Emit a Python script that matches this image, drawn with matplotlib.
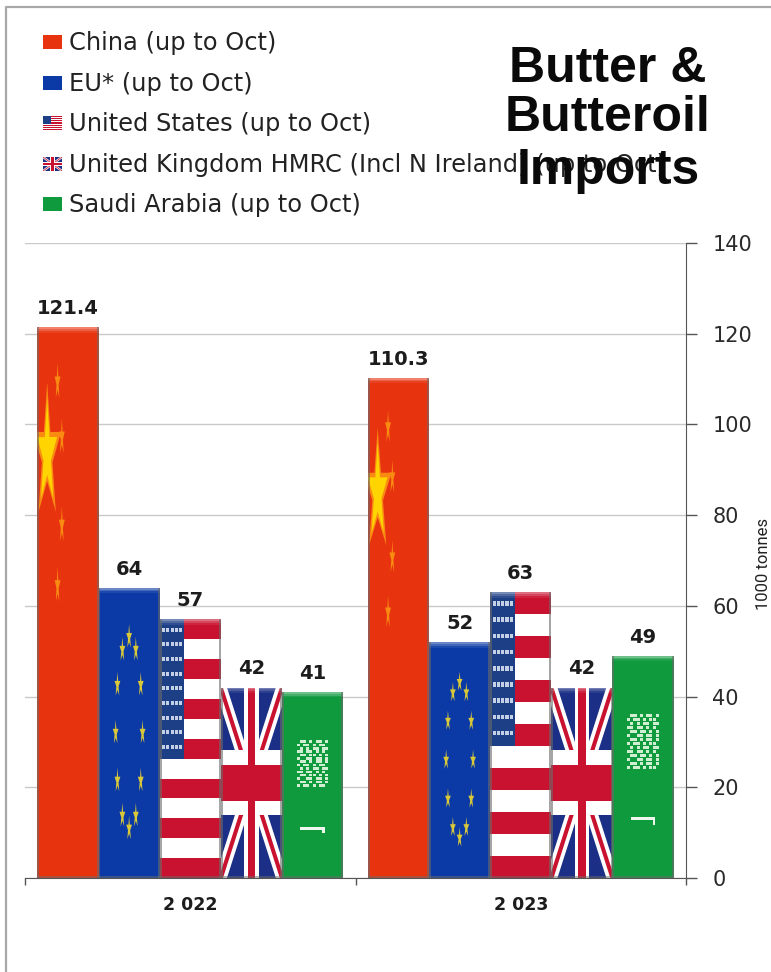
import numpy as np
import matplotlib
matplotlib.use('Agg')
import matplotlib.pyplot as plt
from matplotlib.patches import Rectangle, Polygon

years = ['2 022', '2 023']
legend_labels = ['China (up to Oct)', 'EU* (up to Oct)', 'United States (up to Oct)',
                 'United Kingdom HMRC (Incl N Ireland) (up to Oct)', 'Saudi Arabia (up to Oct)']
china = [121.4, 110.3]
eu = [64, 52]
usa = [57, 63]
uk = [42, 42]
saudi = [41, 49]
value_text = [['121.4', '110.3'], ['64', '52'], ['57', '63'], ['42', '42'], ['41', '49']]
y_ticks = [0, 20, 40, 60, 80, 100, 120, 140]

RED = '#e8330f'
BLUE = '#0b3aa6'
FLAG_RED = '#c9122f'
NAVY = '#1b2f86'
GREEN = '#0f9a3e'
YELLOW = '#ffd400'

W, H = 771, 972


def put(ax, clip, art):
    ax.add_patch(art)
    art.set_clip_path(clip)
    return art


def rect(ax, clip, box, u0, v0, u1, v1, color, z=3, alpha=None):
    # u runs left to right, v runs top to bottom of the box
    x, y, w, h = box
    r = Rectangle((x + u0 * w, y + (1 - v1) * h), (u1 - u0) * w, (v1 - v0) * h,
                  fc=color, ec='none', zorder=z, alpha=alpha)
    return put(ax, clip, r)


def poly(ax, clip, box, pts, color, z=3, alpha=None):
    x, y, w, h = box
    xy = [(x + u * w, y + (1 - v) * h) for u, v in pts]
    return put(ax, clip, Polygon(xy, closed=True, fc=color, ec='none', zorder=z, alpha=alpha))


def star(ax, clip, box, u, v, ru, rv, color=YELLOW, z=4, alpha=None):
    a = np.pi / 2 + np.arange(10) * np.pi / 5
    r = np.where(np.arange(10) % 2 == 0, 1.0, 0.38)
    pts = list(zip(u + ru * r * np.cos(a), v - rv * r * np.sin(a)))
    poly(ax, clip, box, pts, color, z=z, alpha=alpha)


def china_flag(ax, clip, box, detail=True):
    rect(ax, clip, box, 0, 0, 1, 1, RED)
    if detail:
        star(ax, clip, box, 0.16, 0.23, 0.24, 0.13, '#f98a12', z=3.5)
        star(ax, clip, box, 0.16, 0.23, 0.17, 0.10)
        for u, v in [(0.33, 0.10), (0.40, 0.20), (0.40, 0.36), (0.33, 0.47)]:
            star(ax, clip, box, u, v, 0.05, 0.035, '#f98a12')


def eu_flag(ax, clip, box, detail=True):
    rect(ax, clip, box, 0, 0, 1, 1, BLUE)
    if detail:
        for a in np.arange(12) * np.pi / 6:
            star(ax, clip, box, 0.5 + 0.22 * np.sin(a), 0.5 - 0.33 * np.cos(a), 0.05, 0.045, '#d8c83a')


def us_flag(ax, clip, box, detail=True):
    rect(ax, clip, box, 0, 0, 1, 1, '#ffffff')
    for i in range(0, 13, 2):
        rect(ax, clip, box, 0, i / 13, 1, (i + 1) / 13, FLAG_RED)
    rect(ax, clip, box, 0, 0, 0.4, 7 / 13, '#1d3f86', z=3.2)
    if detail:
        for row in range(9):
            v = (row + 0.7) / 9.5 * 7 / 13
            for col in range(5):
                u = 0.04 + col * 0.07
                rect(ax, clip, box, u, v - 0.008, u + 0.05, v + 0.008, '#c3d0e6', z=3.4)


def uk_flag(ax, clip, box, detail=True):
    rect(ax, clip, box, 0, 0, 1, 1, NAVY)
    for u0, u1 in [(0, 1), (1, 0)]:
        poly(ax, clip, box, [(u0 - 0.1, 0), (u0 + 0.1, 0), (u1 + 0.1, 1), (u1 - 0.1, 1)], '#ffffff', z=3.1)
        poly(ax, clip, box, [(u0 - 0.035, 0), (u0 + 0.035, 0), (u1 + 0.035, 1), (u1 - 0.035, 1)], FLAG_RED, z=3.2)
    rect(ax, clip, box, 0.38, 0, 0.62, 1, '#ffffff', z=3.3)
    rect(ax, clip, box, 0, 0.33, 1, 0.67, '#ffffff', z=3.3)
    rect(ax, clip, box, 0.44, 0, 0.56, 1, FLAG_RED, z=3.4)
    rect(ax, clip, box, 0, 0.405, 1, 0.595, FLAG_RED, z=3.4)


def saudi_flag(ax, clip, box, detail=True):
    rect(ax, clip, box, 0, 0, 1, 1, GREEN)
    if detail:
        # mottled script block and sword
        dashes = [(0, 3, 5, 8), (1, 4, 6, 9), (0, 2, 4, 7), (2, 5, 7, 9), (0, 3, 6, 8), (1, 2, 5, 8)]
        for row in range(14):
            v = 0.26 + row * 0.018
            for col in range(10):
                u = 0.24 + col * 0.052
                if col not in dashes[row % 6]:
                    rect(ax, clip, box, u, v, u + 0.05, v + 0.014, '#cfeed2', z=3.4)
        rect(ax, clip, box, 0.30, 0.725, 0.70, 0.74, '#eef8ee', z=3.4)
        rect(ax, clip, box, 0.66, 0.725, 0.70, 0.76, '#eef8ee', z=3.4)


flag_funcs = [china_flag, eu_flag, us_flag, uk_flag, saudi_flag]
series = [china, eu, usa, uk, saudi]

fig = plt.figure(figsize=(W / 100, H / 100), dpi=100, facecolor='white')
ax = fig.add_axes([25 / W, (H - 878) / H, 661 / W, 635 / H])
ax.set_xlim(-0.5, 1.5)
ax.set_ylim(0, 140)
ax.set_axisbelow(True)
ax.grid(axis='y', color='#c9c9c9', lw=1)

bar_w = 0.185
x = np.arange(len(years))
for i, vals in enumerate(series):
    offs = x + (i - 2) * bar_w
    bars = ax.bar(offs, vals, width=bar_w, color='none', edgecolor='none', zorder=2)
    for j, b in enumerate(bars):
        box = (b.get_x(), 0, b.get_width(), b.get_height())
        flag_funcs[i](ax, b, box)
        # bevel: light top, grey sides
        for k, al in enumerate([0.22, 0.16, 0.08]):
            rect(ax, b, box, 0, 0, 1, (k + 1) * 0.4 / b.get_height(), '#ffffff', z=5, alpha=al)
        for u0, u1 in [(0, 0.03), (0.97, 1)]:
            rect(ax, b, box, u0, 0, u1, 1, '#6b6b6b', z=5, alpha=0.6)
        rect(ax, b, box, 0, 1 - 0.5 / b.get_height(), 1, 1, '#6b6b6b', z=5, alpha=0.5)
        ax.text(offs[j], vals[j] + 2.0, value_text[i][j], ha='center', va='bottom',
                fontsize=14, fontweight='bold', color='#1c1c1c', family='DejaVu Sans', zorder=6)

ax.yaxis.tick_right()
ax.set_yticks(y_ticks)
ax.tick_params(axis='y', direction='out', length=8, width=1, color='#555555', pad=11,
               labelsize=15, labelcolor='#2a2a2a')
ax.set_xticks([-0.5, 0.5, 1.5])
ax.set_xticklabels([])
ax.tick_params(axis='x', which='major', direction='out', length=5, width=1, color='#555555')
ax.set_xticks(x, labels=years, minor=True)
ax.tick_params(axis='x', which='minor', length=0, pad=13, labelsize=12.5, labelcolor='#1c1c1c')
for lab in ax.get_xticklabels(minor=True):
    lab.set_fontweight('bold')
for name in ['top', 'left']:
    ax.spines[name].set_visible(False)
for name in ['right', 'bottom']:
    ax.spines[name].set_color('#555555')

# overlay in pixel coordinates for frame, legend and title
over = fig.add_axes([0, 0, 1, 1], facecolor='none')
over.set_xlim(0, W)
over.set_ylim(H, 0)
over.axis('off')
over.plot([6, 6, W], [H, 7, 7], color='#a8a8a8', lw=1.6, clip_on=False)

key_y = [42, 83, 123, 164, 204]
for i, lab in enumerate(legend_labels):
    y = key_y[i]
    box = (43, y + 7, 19, -14)
    clip = Rectangle((43, y - 7), 19, 14, transform=over.transData)
    flag_funcs[i](over, clip, box, detail=False)
    over.text(69, y + 1, lab, ha='left', va='center', fontsize=17.4, family='DejaVu Sans', color='#222222')

title_y = [69, 118, 171]
for y, t in zip(title_y, ['Butter &', 'Butteroil', 'Imports']):
    over.text(608, y, t, ha='center', va='center', fontsize=36, fontweight='bold',
              family='Liberation Sans', color='#0a0a0a', zorder=8)

over.text(764, 564, '1000 tonnes', rotation=90, ha='center', va='center', fontsize=12,
          family='Roboto', color='#222222')

fig.savefig('out.png', dpi=100)
